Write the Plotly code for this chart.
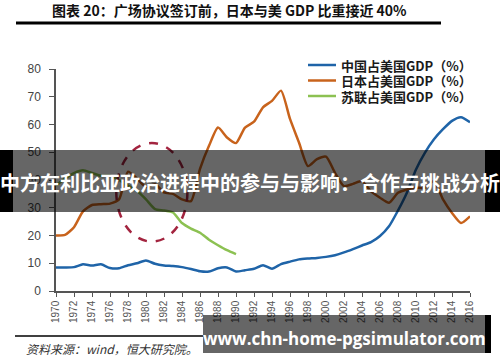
import plotly.graph_objects as go

years = list(range(1970, 2017))
china = [8.5, 8.5, 8.6, 9.6, 9.2, 9.6, 8.3, 8.2, 9.3, 10.0, 11.0, 9.8, 9.2, 9.0, 8.6, 7.9,
         7.1, 7.0, 8.2, 8.5, 7.0, 7.5, 8.0, 9.3, 8.0, 9.7, 10.6, 11.4, 11.7, 11.9, 12.3, 12.9,
         13.9, 15.1, 16.4, 17.6, 19.8, 23.3, 29.0, 35.5, 43.8, 49.9, 54.7, 58.3, 61.3, 62.6, 60.8]
japan = [20.0, 20.2, 23.0, 28.7, 31.0, 31.3, 31.5, 33.0, 43.0, 40.5, 37.5, 38.5, 35.5, 35.0, 33.0, 32.4,
         44.0, 52.3, 58.9, 55.3, 53.3, 58.9, 61.0, 66.2, 68.5, 72.2, 62.0, 53.5, 45.0, 47.5, 48.4, 42.6,
         37.8, 38.6, 39.6, 35.9, 33.6, 31.8, 35.4, 36.6, 37.2, 37.2, 39.6, 33.0, 28.1, 24.5, 26.9]
soviet_years = list(range(1970, 1991))
soviet = [38.0, 40.5, 42.5, 43.5, 42.5, 41.5, 41.5, 40.0, 38.0, 36.0, 33.0, 29.5, 29.0, 28.3,
          24.5, 22.5, 21.0, 18.5, 16.5, 14.7, 13.3]
names = ["中国占美国GDP（%）", "日本占美国GDP（%）", "苏联占美国GDP（%）"]
colors = ["#1f64a8", "#c8631c", "#8cc152"]
x_ticks = list(range(1970, 2017, 2))

W, H = 500, 362
L, R, T, B = 56, 470, 69, 291

def px(x):
    return x / W

def py(y):
    return 1 - y / H

def box(x0, x1, y0, y1, color):
    return dict(type="rect", xref="paper", yref="paper", x0=px(x0), x1=px(x1),
                y0=py(y1), y1=py(y0), fillcolor=color, line=dict(width=0), layer="above")

fig = go.Figure()
for xs, ys, nm, col in [(years, china, names[0], colors[0]),
                        (years, japan, names[1], colors[1]),
                        (soviet_years, soviet, names[2], colors[2])]:
    fig.add_trace(go.Scatter(x=xs, y=ys, name=nm, mode="lines", showlegend=False,
                             line=dict(color=col, width=2.5, shape="spline", smoothing=0.6)))

# page rules drawn on a full-figure pixel overlay subplot (x2/y2)
for (x0, x1, yc, w) in [(16, 441, 23, 3), (15, 203, 336, 1.5)]:
    fig.add_trace(go.Scatter(x=[x0, x1], y=[yc, yc], xaxis="x2", yaxis="y2", mode="lines",
                             showlegend=False, hoverinfo="skip",
                             line=dict(color="black", width=w)))

shapes = [
    dict(type="circle", xref="x", yref="y", x0=1976.7, x1=1984.6, y0=17.8, y1=53.3,
         line=dict(color="#a3243f", width=2.5, dash="dash"), layer="above"),
    box(13, 485, 150, 212, "rgba(0,0,0,0.6)"),
    box(0, 13, 150, 212, "black"),
    box(485, 500, 150, 212, "black"),
    box(203, 485, 315, 353, "rgba(0,0,0,0.6)"),
    box(485, 491, 315, 353, "black"),
]

annotations = [
    dict(text="<b>图表 20：广场协议签订前，日本与美 GDP 比重接近 40%</b>", xref="paper", yref="paper",
         x=px(229), y=py(10), xanchor="center", yanchor="middle", showarrow=False,
         font=dict(family="Noto Sans CJK SC", size=14, color="#111")),
    dict(text="<i>资料来源：wind，恒大研究院。</i>", xref="paper", yref="paper",
         x=px(24), y=py(348), xanchor="left", yanchor="middle", showarrow=False,
         font=dict(family="Noto Sans CJK SC", size=12, color="#333")),
    dict(text="<b>中方在利比亚政治进程中的参与与影响：合作与挑战分析</b>", xref="paper", yref="paper",
         x=px(250), y=py(182), xanchor="center", yanchor="middle", showarrow=False,
         font=dict(family="Noto Sans CJK SC", size=20, color="white")),
    dict(text="<b>www.chn-home-pgsimulator.com</b>", xref="paper", yref="paper",
         x=px(344), y=py(338), xanchor="center", yanchor="middle", showarrow=False,
         font=dict(family="Open Sans", size=17, color="white")),
]

leg_rows = [65, 80.5, 96]
for nm, col, ry in zip(names, colors, leg_rows):
    shapes.append(box(308, 336, ry - 1.25, ry + 1.25, col))
    annotations.append(dict(text="<b>" + nm + "</b>", xref="paper", yref="paper",
                            x=px(339), y=py(ry), xanchor="left", yanchor="middle", showarrow=False,
                            font=dict(family="Noto Sans CJK SC", size=13, color="#1a1a1a")))

fig.update_layout(
    width=W, height=H,
    margin=dict(l=0, r=0, t=0, b=0, pad=0),
    paper_bgcolor="white", plot_bgcolor="rgba(0,0,0,0)",
    showlegend=False,
    shapes=shapes, annotations=annotations,
    xaxis=dict(domain=[L / W, R / W], range=[1970, 2016], automargin=False,
               tickvals=x_ticks, ticktext=[str(v) for v in x_ticks],
               tickangle=-90, showgrid=False, zeroline=False, showline=True,
               linecolor="#555", linewidth=1.5, ticks="outside", ticklen=4, tickcolor="#555",
               tickfont=dict(family="Liberation Sans", size=10, color="#555")),
    yaxis=dict(domain=[1 - B / H, 1 - T / H], range=[0, 80], automargin=False,
               tickvals=[0, 10, 20, 30, 40, 50, 60, 70, 80],
               showgrid=False, zeroline=False, showline=True, ticklabelstandoff=6,
               linecolor="#555", linewidth=1.5, ticks="outside", ticklen=5, tickcolor="#555",
               tickfont=dict(family="Liberation Sans", size=12, color="#444")),
    xaxis2=dict(domain=[0, 1], range=[0, W], visible=False, fixedrange=True, anchor="y2"),
    yaxis2=dict(domain=[0, 1], range=[H, 0], visible=False, fixedrange=True, anchor="x2"),
)

fig.write_html("out.html", config={"displayModeBar": False},
               post_script="document.body.style.margin='0';document.body.style.overflow='hidden';")
